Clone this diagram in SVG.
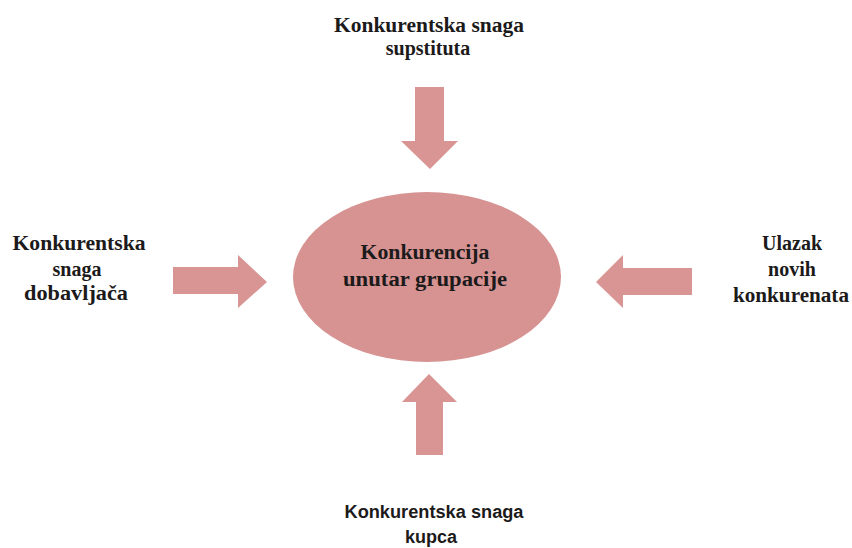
<svg xmlns="http://www.w3.org/2000/svg" width="852" height="548" viewBox="0 0 852 548">
<style>
.t{font-family:"Liberation Serif","Times New Roman",serif;font-weight:bold;font-size:20px;fill:#1c1a1a;text-anchor:middle}
.s{font-family:"Liberation Sans",Arial,sans-serif;font-weight:bold;font-size:18px;fill:#1c1a1a;text-anchor:middle}
.a{fill:#d99594}
</style>
<rect width="852" height="548" fill="#ffffff"/>
<g id="center">
<ellipse cx="427" cy="277" rx="134" ry="85" fill="#d69392"/>
<text class="t" x="425" y="259" textLength="129" lengthAdjust="spacingAndGlyphs">Konkurencija</text>
<text class="t" x="425" y="286" textLength="164" lengthAdjust="spacingAndGlyphs">unutar grupacije</text>
</g>
<g id="top">
<text class="t" x="429" y="32" textLength="190" lengthAdjust="spacingAndGlyphs">Konkurentska snaga</text>
<text class="t" x="428" y="55">supstituta</text>
</g>
<g id="left">
<text class="t" x="79" y="250" textLength="133" lengthAdjust="spacingAndGlyphs">Konkurentska</text>
<text class="t" x="77" y="276">snaga</text>
<text class="t" x="76" y="300" textLength="104" lengthAdjust="spacingAndGlyphs">dobavljača</text>
</g>
<g id="right">
<text class="t" x="792" y="250">Ulazak</text>
<text class="t" x="792" y="276">novih</text>
<text class="t" x="791" y="302" textLength="116" lengthAdjust="spacingAndGlyphs">konkurenata</text>
</g>
<g id="bottom">
<text class="s" x="434" y="518" textLength="179" lengthAdjust="spacingAndGlyphs">Konkurentska snaga</text>
<text class="s" x="431" y="543">kupca</text>
</g>
<g id="connectors">
<polygon class="a" points="415,87 444,87 444,141 458,141 430,169 401,141 415,141"/>
<polygon class="a" points="416,455 443,455 443,402 457,402 429,374 402,402 416,402"/>
<polygon class="a" points="173,267 238,267 238,255 267,282 238,308 238,294 173,294"/>
<polygon class="a" points="692,268 623,268 623,255 596,282 623,308 623,295 692,295"/>
</g>
</svg>
